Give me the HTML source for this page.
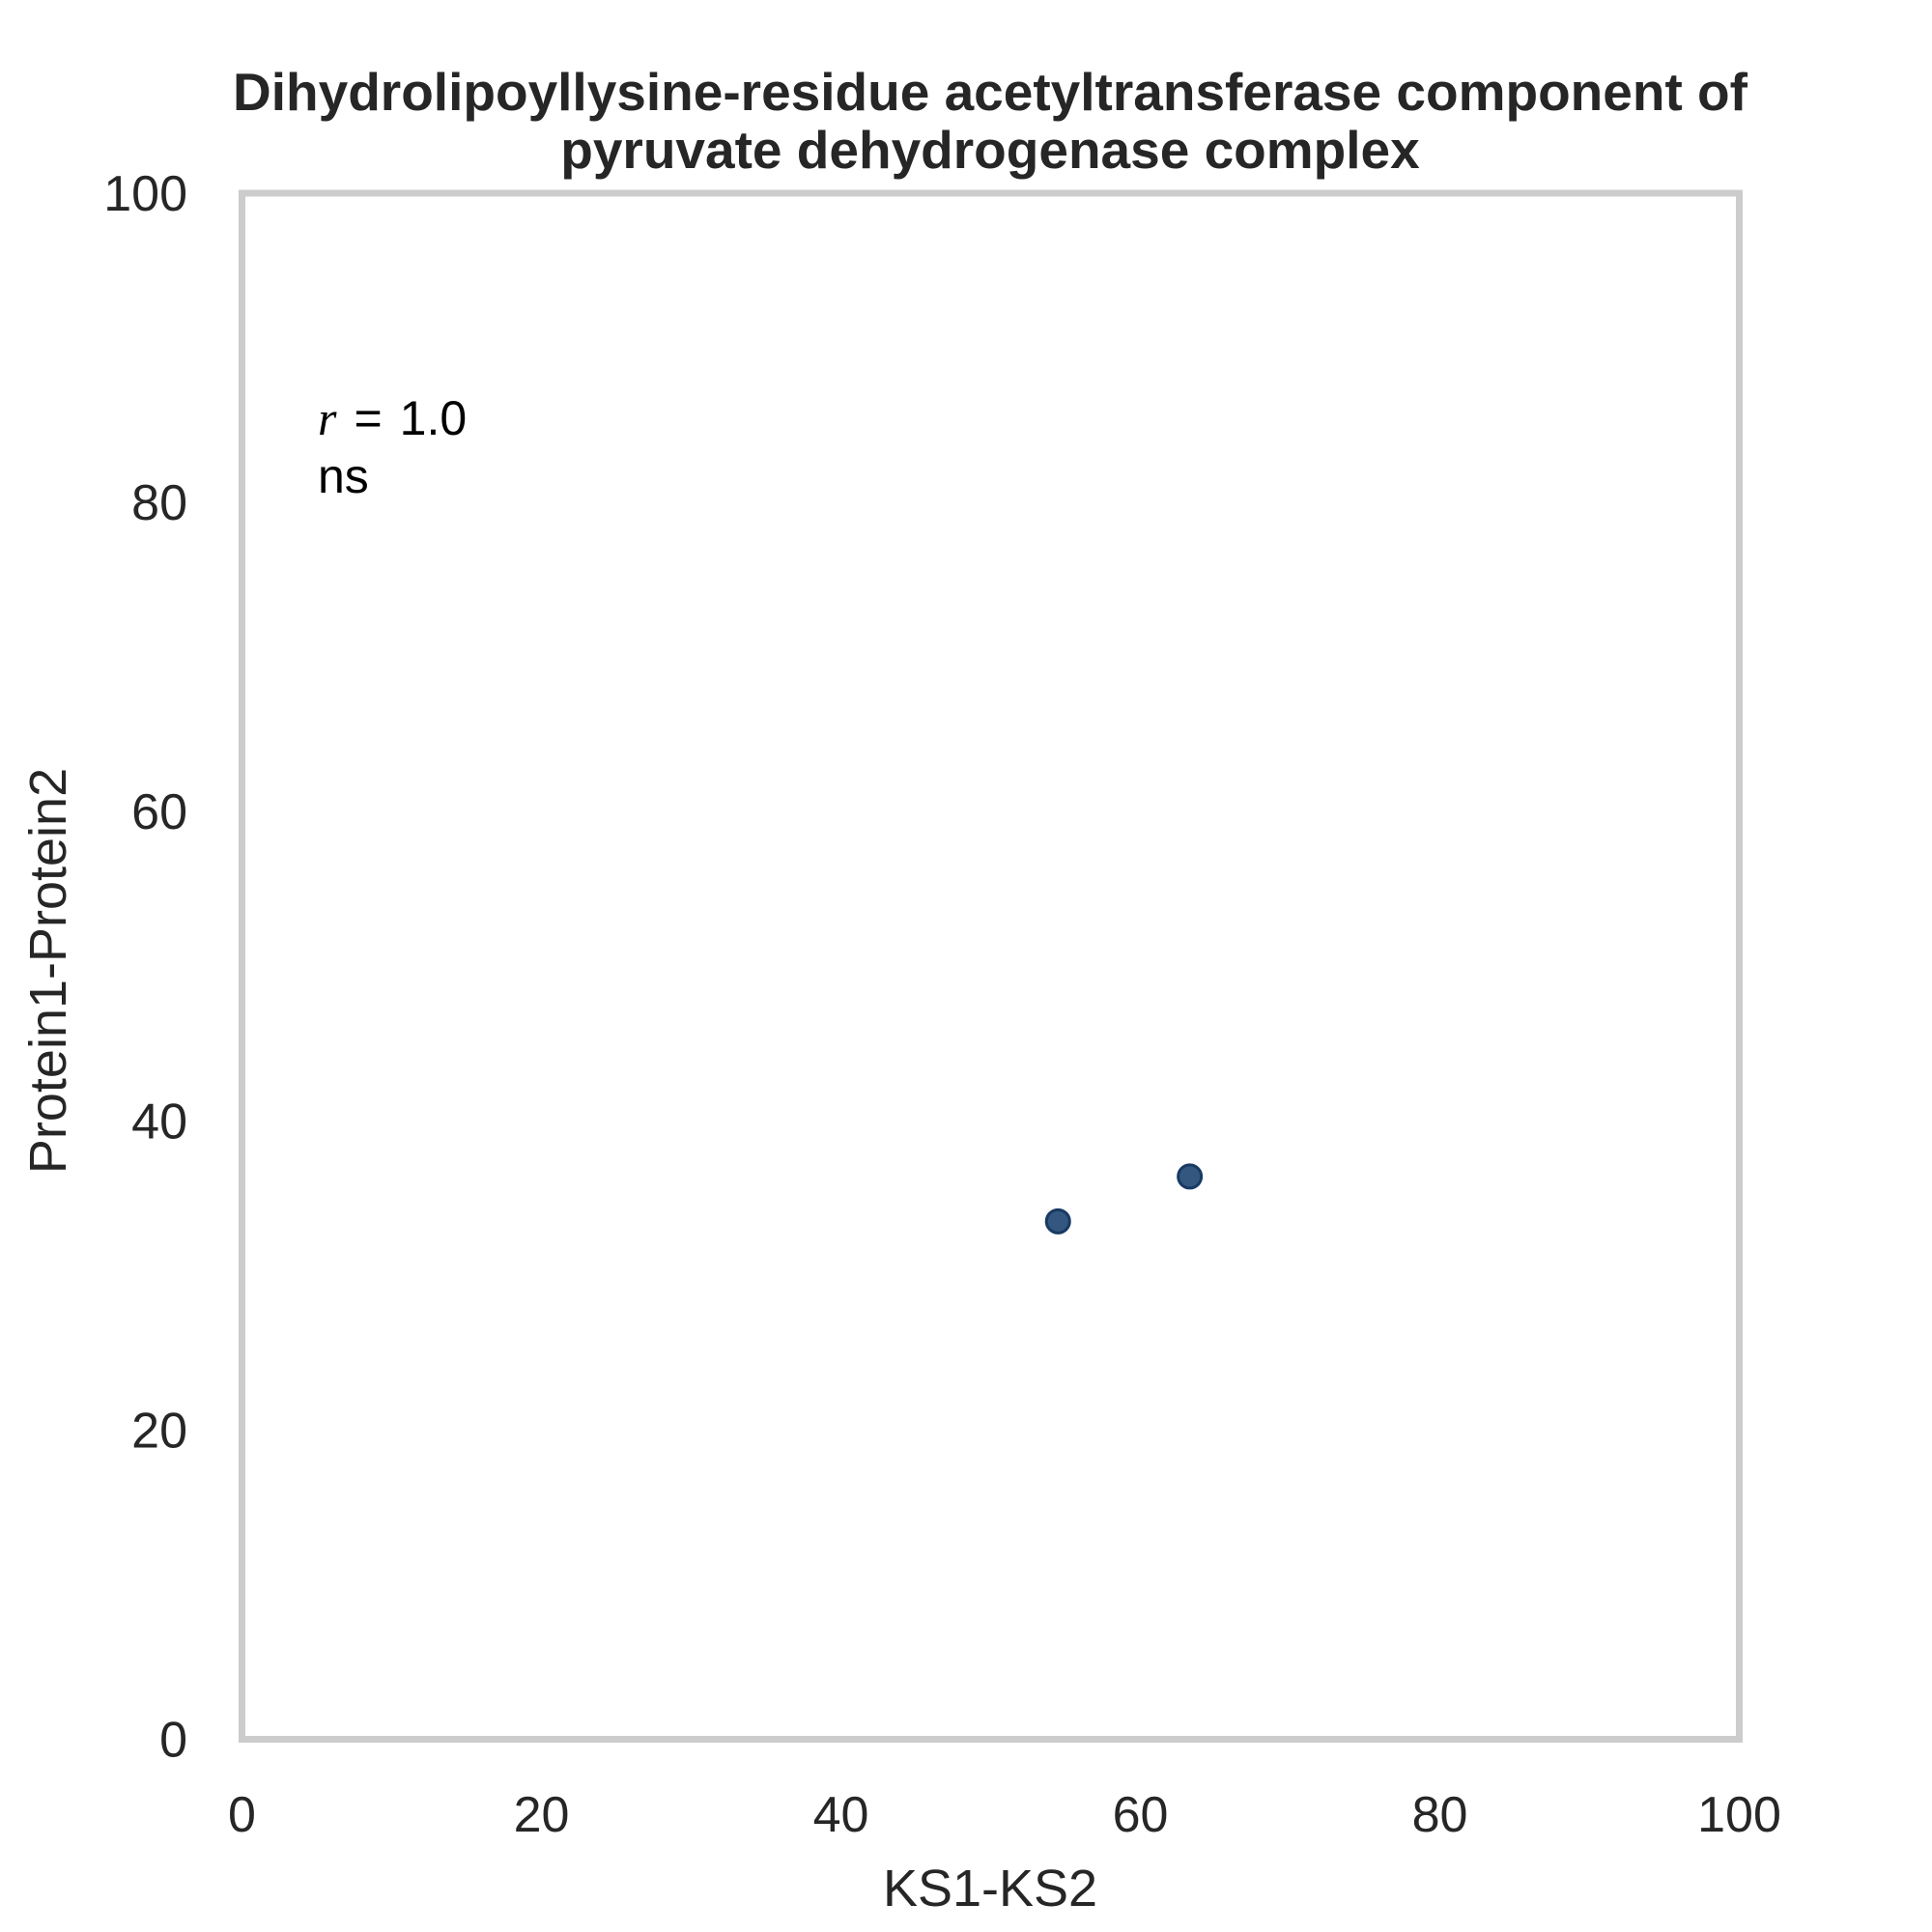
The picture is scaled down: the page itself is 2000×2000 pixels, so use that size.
<!DOCTYPE html>
<html><head><meta charset="utf-8"><style>
html,body{margin:0;padding:0;background:#fff;}
svg{display:block;font-family:"Liberation Sans",Arial,sans-serif;}
</style></head><body>
<svg id="chart" width="2000" height="2000" viewBox="0 0 2000 2000">
<rect x="0" y="0" width="2000" height="2000" fill="#fff"/>
<g font-weight="bold" font-size="55" fill="#262626" text-anchor="middle">
<text x="1025" y="114">Dihydrolipoyllysine-residue acetyltransferase component of</text>
<text x="1025" y="174">pyruvate dehydrogenase complex</text>
</g>
<rect x="250.5" y="200" width="1550" height="1600.5" fill="none" stroke="#cccccc" stroke-width="7"/>
<g id="xticks"></g>
<g id="yticks"></g>
<g id="points"></g>
<text x="1025" y="1973" font-size="54" fill="#262626" text-anchor="middle">KS1-KS2</text>
<text transform="translate(68,1005) rotate(-90)" font-size="54" fill="#262626" text-anchor="middle">Protein1-Protein2</text>
<g font-size="50" fill="#000">
<text x="329" y="450"><tspan font-family="Liberation Serif,serif" font-style="italic">r</tspan><tspan dx="18">=</tspan><tspan dx="18">1.0</tspan></text>
<text x="329" y="510">ns</text>
</g>
</svg>
<script>
const xTicks = [0, 20, 40, 60, 80, 100];
const yTicks = [0, 20, 40, 60, 80, 100];
const xValues = [54.5, 63.3];
const yValues = [33.5, 36.4];
const NS = "http://www.w3.org/2000/svg";
const X0 = 250.5, X1 = 1800.5, Y0 = 1800.5, Y1 = 200;
function sx(v){ return X0 + (v/100)*(X1-X0); }
function sy(v){ return Y0 - (v/100)*(Y0-Y1); }
const xg = document.getElementById('xticks');
xTicks.forEach(t => {
  const el = document.createElementNS(NS,'text');
  el.setAttribute('x', sx(t)); el.setAttribute('y', 1896);
  el.setAttribute('text-anchor','middle'); el.setAttribute('font-size','52'); el.setAttribute('fill','#262626');
  
  
  el.textContent = t; xg.appendChild(el);
});
const yg = document.getElementById('yticks');
yTicks.forEach(t => {
  const el = document.createElementNS(NS,'text');
  el.setAttribute('x', 194); el.setAttribute('y', sy(t)+18);
  el.setAttribute('text-anchor','end'); el.setAttribute('font-size','52'); el.setAttribute('fill','#262626');
  
  
  el.textContent = t; yg.appendChild(el);
});
const pg = document.getElementById('points');
xValues.forEach((v,i) => {
  const c = document.createElementNS(NS,'circle');
  c.setAttribute('cx', sx(v)); c.setAttribute('cy', sy(yValues[i])); c.setAttribute('r', 12);
  c.setAttribute('fill','#34577f'); c.setAttribute('stroke','#183a64'); c.setAttribute('stroke-width','3');
  
  
  pg.appendChild(c);
});
</script>
</body></html>
